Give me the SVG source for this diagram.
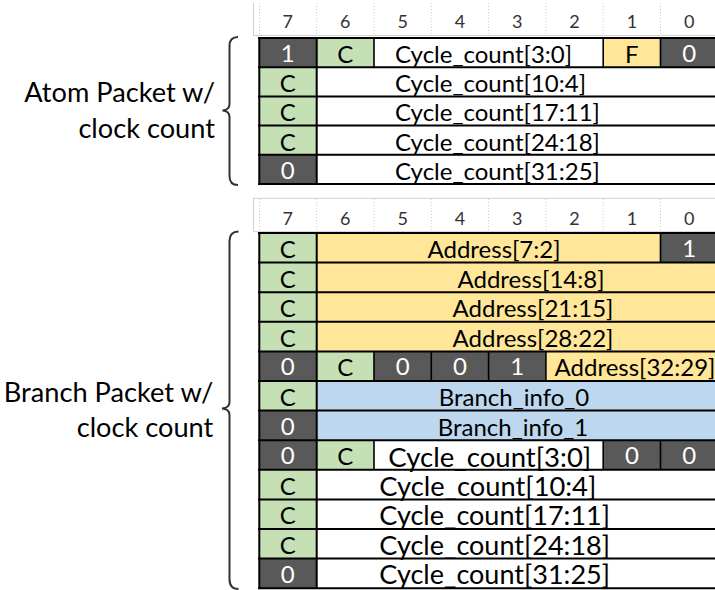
<svg xmlns="http://www.w3.org/2000/svg" width="715" height="590" viewBox="0 0 715 590">
<style>
.dk{fill:#595959}.gr{fill:#C5E0B4}.yl{fill:#FFE699}.bl{fill:#BDD7EE}.wh{fill:#FFFFFF}
text{font-family:Lato,"Open Sans","Liberation Sans",sans-serif;font-size:24px;fill:#000;text-anchor:middle}
text.w{fill:#FFFFFF}
text.s{text-anchor:start}
text.big{font-size:26.5px}
text.hd{font-size:18px;fill:#333333}
text.lb{font-size:27.2px;text-anchor:end}
.hl{stroke:#D0D0D0;stroke-width:1;fill:none}
.dot{stroke:#CCCCCC;stroke-width:1;stroke-dasharray:1 2;fill:none}
.g{stroke:#000;stroke-width:2;fill:none}
.gv{stroke:#000;stroke-width:1.6;fill:none}
.brace{stroke:#333333;stroke-width:2;fill:none}
</style>
<rect width="715" height="590" fill="#FFFFFF"/>

<g id="labels">
  <text class="lb" x="215" y="101.7">Atom Packet w/</text>
  <text class="lb" x="215" y="138.3">clock count</text>
  <text class="lb" x="213.3" y="401.7">Branch Packet w/</text>
  <text class="lb" x="213.3" y="436.7">clock count</text>
</g>

<g id="connectors">
  <path class="brace" d="M238,37 Q229.5,37 229.5,46 L229.5,104 Q229.5,110 222.5,110.5 Q229.5,111 229.5,117 L229.5,176 Q229.5,185 238,185"/>
  <path class="brace" d="M238.5,231.5 Q229.5,231.5 229.5,241 L229.5,402 Q229.5,408 222,408.5 Q229.5,409 229.5,415 L229.5,579 Q229.5,589 238.5,589"/>
</g>

<g id="header-atom">
  <path class="hl" d="M253.5,3 V35.5 H715"/>
  <path class="dot" d="M259.5,3 V35 M316.7,3 V35 M374,3 V35 M431.3,3 V35 M488.6,3 V35 M545.9,3 V35 M603.2,3 V35 M660.5,3 V35"/>
  <text class="hd" x="287.8" y="28.3">7</text>
  <text class="hd" x="345.3" y="28.3">6</text>
  <text class="hd" x="402.7" y="28.3">5</text>
  <text class="hd" x="460" y="28.3">4</text>
  <text class="hd" x="517.3" y="28.3">3</text>
  <text class="hd" x="574.6" y="28.3">2</text>
  <text class="hd" x="631.9" y="28.3">1</text>
  <text class="hd" x="689.2" y="28.3">0</text>
</g>

<g id="atom-packet">
  <rect class="dk" x="259" y="38" width="57.7" height="29.2"/>
  <rect class="gr" x="316.7" y="38" width="57.3" height="29.2"/>
  <rect class="wh" x="374" y="38" width="229.2" height="29.2"/>
  <rect class="yl" x="603.2" y="38" width="57.3" height="29.2"/>
  <rect class="dk" x="660.5" y="38" width="60" height="29.2"/>
  <rect class="gr" x="259" y="67.2" width="57.7" height="87.6"/>
  <rect class="dk" x="259" y="154.8" width="57.7" height="29.2"/>

  <text class="w" x="287.8" y="62">1</text>
  <text x="345.3" y="63">C</text>
  <text class="s" x="395" y="63">Cycle_count[3:0]</text>
  <text x="631.9" y="63">F</text>
  <text class="w" x="689.2" y="62">0</text>

  <text x="287.8" y="92.2">C</text>
  <text class="s" x="395" y="92.2">Cycle_count[10:4]</text>
  <text x="287.8" y="121.4">C</text>
  <text class="s" x="395" y="121.4">Cycle_count[17:11]</text>
  <text x="287.8" y="150.6">C</text>
  <text class="s" x="395" y="150.6">Cycle_count[24:18]</text>
  <text class="w" x="287.8" y="179">0</text>
  <text class="s" x="395" y="179.8">Cycle_count[31:25]</text>

  <path class="g" d="M258,38 H715 M258,67.2 H715 M258,96.4 H715 M258,125.6 H715 M258,154.8 H715 M258,184 H715"/>
  <path class="g" d="M259.3,37 V185 M316.7,38 V184"/>
  <path class="gv" d="M374,38 V67.2 M603.2,38 V67.2 M660.5,38 V67.2"/>
</g>

<g id="header-branch">
  <path class="hl" d="M715,198.3 H253.5 V231.7 H715"/>
  <path class="dot" d="M259.5,199 V231 M316.7,199 V231 M374,199 V231 M431.3,199 V231 M488.6,199 V231 M545.9,199 V231 M603.2,199 V231 M660.5,199 V231"/>
  <text class="hd" x="287.8" y="225">7</text>
  <text class="hd" x="345.3" y="225">6</text>
  <text class="hd" x="402.7" y="225">5</text>
  <text class="hd" x="460" y="225">4</text>
  <text class="hd" x="517.3" y="225">3</text>
  <text class="hd" x="574.6" y="225">2</text>
  <text class="hd" x="631.9" y="225">1</text>
  <text class="hd" x="689.2" y="225">0</text>
</g>

<g id="branch-packet">
  <rect class="gr" x="259" y="233" width="57.7" height="118.4"/>
  <rect class="yl" x="316.7" y="233" width="343.8" height="29.6"/>
  <rect class="dk" x="660.5" y="233" width="60" height="29.6"/>
  <rect class="yl" x="316.7" y="262.6" width="403.8" height="88.8"/>
  <rect class="dk" x="259" y="351.4" width="57.7" height="29.6"/>
  <rect class="gr" x="316.7" y="351.4" width="57.3" height="29.6"/>
  <rect class="dk" x="374" y="351.4" width="171.9" height="29.6"/>
  <rect class="yl" x="545.9" y="351.4" width="174.6" height="29.6"/>
  <rect class="gr" x="259" y="381" width="57.7" height="29.6"/>
  <rect class="bl" x="316.7" y="381" width="403.8" height="59.2"/>
  <rect class="dk" x="259" y="410.6" width="57.7" height="59.2"/>
  <rect class="gr" x="316.7" y="440.2" width="57.3" height="29.6"/>
  <rect class="wh" x="374" y="440.2" width="229.2" height="29.6"/>
  <rect class="dk" x="603.2" y="440.2" width="117.3" height="29.6"/>
  <rect class="gr" x="259" y="469.8" width="57.7" height="88.8"/>
  <rect class="dk" x="259" y="558.6" width="57.7" height="29.6"/>

  <text x="287.8" y="258">C</text>
  <text x="494" y="258">Address[7:2]</text>
  <text class="w" x="689.2" y="257">1</text>
  <text x="287.8" y="287.6">C</text>
  <text x="531" y="287.6">Address[14:8]</text>
  <text x="287.8" y="317.2">C</text>
  <text x="533" y="317.2">Address[21:15]</text>
  <text x="287.8" y="346.8">C</text>
  <text x="533" y="346.8">Address[28:22]</text>
  <text class="w" x="287.8" y="375.4">0</text>
  <text x="345.3" y="376.4">C</text>
  <text class="w" x="402.7" y="375.4">0</text>
  <text class="w" x="460" y="375.4">0</text>
  <text class="w" x="517.3" y="375.4">1</text>
  <text x="635" y="376.4">Address[32:29]</text>
  <text x="287.8" y="406">C</text>
  <text x="514" y="406">Branch_info_0</text>
  <text class="w" x="287.8" y="434.6">0</text>
  <text x="513" y="435.6">Branch_info_1</text>
  <text class="w" x="287.8" y="464.2">0</text>
  <text x="345.3" y="465.2">C</text>
  <text class="s big" x="388.3" y="466.5" textLength="203" lengthAdjust="spacingAndGlyphs">Cycle_count[3:0]</text>
  <text class="w" x="631.9" y="464.2">0</text>
  <text class="w" x="689.2" y="464.2">0</text>
  <text x="287.8" y="494.8">C</text>
  <text class="s big" x="379.3" y="495.5" textLength="217" lengthAdjust="spacingAndGlyphs">Cycle_count[10:4]</text>
  <text x="287.8" y="524.4">C</text>
  <text class="s big" x="379.3" y="525.1" textLength="230.7" lengthAdjust="spacingAndGlyphs">Cycle_count[17:11]</text>
  <text x="287.8" y="554">C</text>
  <text class="s big" x="379.3" y="554.7" textLength="230.7" lengthAdjust="spacingAndGlyphs">Cycle_count[24:18]</text>
  <text class="w" x="287.8" y="582.6">0</text>
  <text class="s big" x="379.3" y="584.3" textLength="230.7" lengthAdjust="spacingAndGlyphs">Cycle_count[31:25]</text>

  <path class="g" d="M258,233 H715 M258,262.6 H715 M258,292.2 H715 M258,321.8 H715 M258,351.4 H715 M258,381 H715 M258,410.6 H715 M258,440.2 H715 M258,469.8 H715 M258,499.4 H715 M258,529 H715 M258,558.6 H715 M258,588.2 H715"/>
  <path class="g" d="M259.3,232 V589 M316.7,233 V588.2"/>
  <path class="gv" d="M660.5,233 V262.6 M374,351.4 V381 M431.3,351.4 V381 M488.6,351.4 V381 M545.9,351.4 V381 M374,440.2 V469.8 M603.2,440.2 V469.8 M660.5,440.2 V469.8"/>
</g>
</svg>
